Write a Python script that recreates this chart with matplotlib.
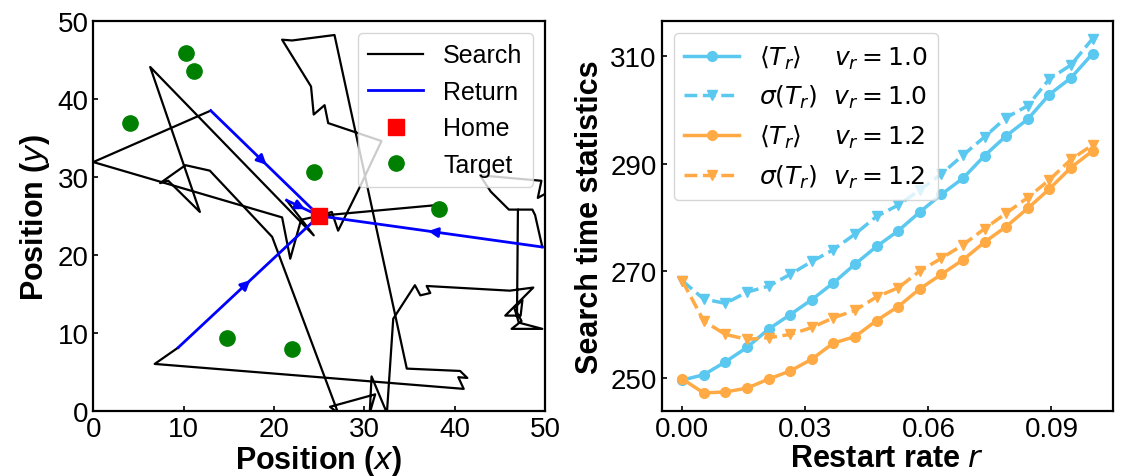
import matplotlib
matplotlib.use('Agg')
import matplotlib.pyplot as plt
import numpy as np

plt.rcParams['font.family'] = ['Liberation Sans', 'DejaVu Sans']
plt.rcParams['mathtext.fontset'] = 'dejavusans'

# ---- left panel data: searcher trajectory ----
home = (25.0, 25.0)
targets_x = [10.3, 11.1, 4.1, 24.4, 38.3, 14.8, 22.0]
targets_y = [45.9, 43.6, 36.9, 30.6, 25.9, 9.3, 7.9]

search_paths = [
    [(25, 25), (23.0, 24.5), (21.8, 19.5), (20.9, 24.8), (0.0, 31.9), (13.0, 38.5)],
    [(25, 25), (26.4, 25.5), (27.1, 23.1), (29.5, 28.7), (31.9, 34.6), (26.0, 36.9),
     (25.6, 39.2), (24.4, 38.0), (24.1, 41.6), (20.9, 47.6), (22.0, 47.5), (26.7, 48.2),
     (34.7, 5.4), (40.6, 5.1), (41.4, 4.2), (40.4, 4.3), (41.0, 2.8), (6.8, 6.0), (9.4, 8.1)],
    [(25, 25), (38.2, 26.4)],
    [(49.7, 21.0), (48.9, 25.1), (48.6, 25.8), (47.0, 25.8), (46.9, 12.6), (47.4, 11.5),
     (46.3, 10.5), (49.7, 10.5), (47.1, 11.3), (46.6, 13.2), (47.5, 14.2), (47.3, 12.2),
     (45.6, 12.2), (48.7, 15.8), (46.1, 15.4), (36.9, 16.0), (37.3, 15.1), (36.2, 14.8),
     (35.6, 16.1), (33.2, 11.8), (32.5, -0.3), (30.8, 4.4), (30.6, -0.3), (31.2, 2.1),
     (26.2, 0.5), (27.1, -0.3), (19.8, 22.3), (12.9, 30.8), (10.2, 31.5), (7.4, 29.2),
     (8.3, 29.5), (11.8, 25.5), (6.3, 44.1), (24.4, 22.5), (21.4, 27.0)],
    [(50.6, 28.2), (49.2, 27.3), (49.6, 29.5), (42.8, 30.2), (44.0, 28.1), (46.0, 25.8),
     (47.0, 25.8)],
]
return_starts = [(13.0, 38.5), (9.4, 8.1), (49.7, 21.0), (21.4, 27.0)]

# ---- right panel data: search time statistics ----
r = [0.0, 0.00526, 0.01053, 0.01579, 0.02105, 0.02632, 0.03158, 0.03684, 0.04211,
     0.04737, 0.05263, 0.05789, 0.06316, 0.06842, 0.07368, 0.07895, 0.08421,
     0.08947, 0.09474, 0.1]
mean_v10 = [249.7, 250.7, 253.1, 255.8, 259.2, 261.9, 264.7, 267.8, 271.3, 274.6,
            277.5, 281.0, 284.3, 287.3, 291.5, 295.2, 298.3, 302.9, 306.0, 310.5]
std_v10 = [268.2, 264.8, 264.0, 266.1, 267.2, 269.4, 271.8, 274.0, 276.9, 280.2,
           282.3, 285.1, 288.1, 291.6, 295.0, 298.6, 300.8, 305.8, 308.4, 313.3]
mean_v12 = [249.9, 247.3, 247.5, 248.2, 249.9, 251.4, 253.6, 256.6, 257.8, 260.8,
            263.4, 266.7, 269.4, 272.1, 275.4, 278.3, 281.7, 285.3, 289.3, 292.4]
std_v12 = [268.2, 260.7, 258.2, 257.3, 257.6, 258.2, 259.5, 261.3, 262.7, 265.2,
           266.9, 270.0, 272.4, 274.9, 277.9, 280.8, 283.7, 287.0, 290.8, 293.5]

c_blue = '#5BC8F0'
c_orange = '#FFAA44'

fig = plt.figure(figsize=(11.21, 4.77), dpi=100)
ax1 = fig.add_axes([0.0832, 0.1369, 0.4030, 0.8170])
ax2 = fig.add_axes([0.5903, 0.1369, 0.4026, 0.8170])

# Left: trajectory
for i, p in enumerate(search_paths):
    p = np.array(p)
    ax1.plot(p[:, 0], p[:, 1], color='black', lw=1.6,
             label='Search' if i == 0 else None)
for i, (sx, sy) in enumerate(return_starts):
    ax1.plot([sx, home[0]], [sy, home[1]], color='blue', lw=2,
             label='Return' if i == 0 else None)
    mx, my = (sx + home[0]) / 2, (sy + home[1]) / 2
    dx, dy = home[0] - sx, home[1] - sy
    n = np.hypot(dx, dy)
    ax1.annotate('', xy=(mx + 0.6 * dx / n, my + 0.6 * dy / n),
                 xytext=(mx - 0.6 * dx / n, my - 0.6 * dy / n),
                 arrowprops=dict(arrowstyle='-|>', color='blue', lw=2, mutation_scale=14))
ax1.plot(home[0], home[1], 's', color='red', ms=11, label='Home', zorder=5)
ax1.plot(targets_x, targets_y, 'o', color='green', ms=11, ls='none', label='Target', zorder=5)
ax1.set_xlim(0, 50)
ax1.set_ylim(0, 50)
ax1.set_xticks([0, 10, 20, 30, 40, 50])
ax1.set_yticks([0, 10, 20, 30, 40, 50])
ax1.set_xlabel('Position ($x$)', fontsize=22, fontweight='bold', labelpad=1)
ax1.set_ylabel('Position ($y$)', fontsize=22, fontweight='bold')
ax1.legend(loc='upper right', fontsize=18, handlelength=2.2)

# Right: statistics vs restart rate
ax2.plot(r, mean_v10, '-o', color=c_blue, lw=2.5, ms=7,
         label=r'$\langle T_r\rangle\ \ \ \ v_r=1.0$')
ax2.plot(r, std_v10, '--v', color=c_blue, lw=2.5, ms=7,
         label=r'$\sigma(T_r)\ \ v_r=1.0$')
ax2.plot(r, mean_v12, '-o', color=c_orange, lw=2.5, ms=7,
         label=r'$\langle T_r\rangle\ \ \ \ v_r=1.2$')
ax2.plot(r, std_v12, '--v', color=c_orange, lw=2.5, ms=7,
         label=r'$\sigma(T_r)\ \ v_r=1.2$')
ax2.set_xticks([0.0, 0.03, 0.06, 0.09])
ax2.set_xticklabels(['0.00', '0.03', '0.06', '0.09'])
ax2.set_yticks([250, 270, 290, 310])
ax2.set_xlabel('Restart rate $r$', fontsize=22, fontweight='bold', labelpad=1)
ax2.set_ylabel('Search time statistics', fontsize=22, fontweight='bold')
ax2.legend(loc='upper left', fontsize=18, handlelength=2.2)

for ax in (ax1, ax2):
    ax.tick_params(direction='in', labelsize=20, width=1.2)
    for s in ax.spines.values():
        s.set_linewidth(1.6)

fig.savefig('out.png', dpi=100)
